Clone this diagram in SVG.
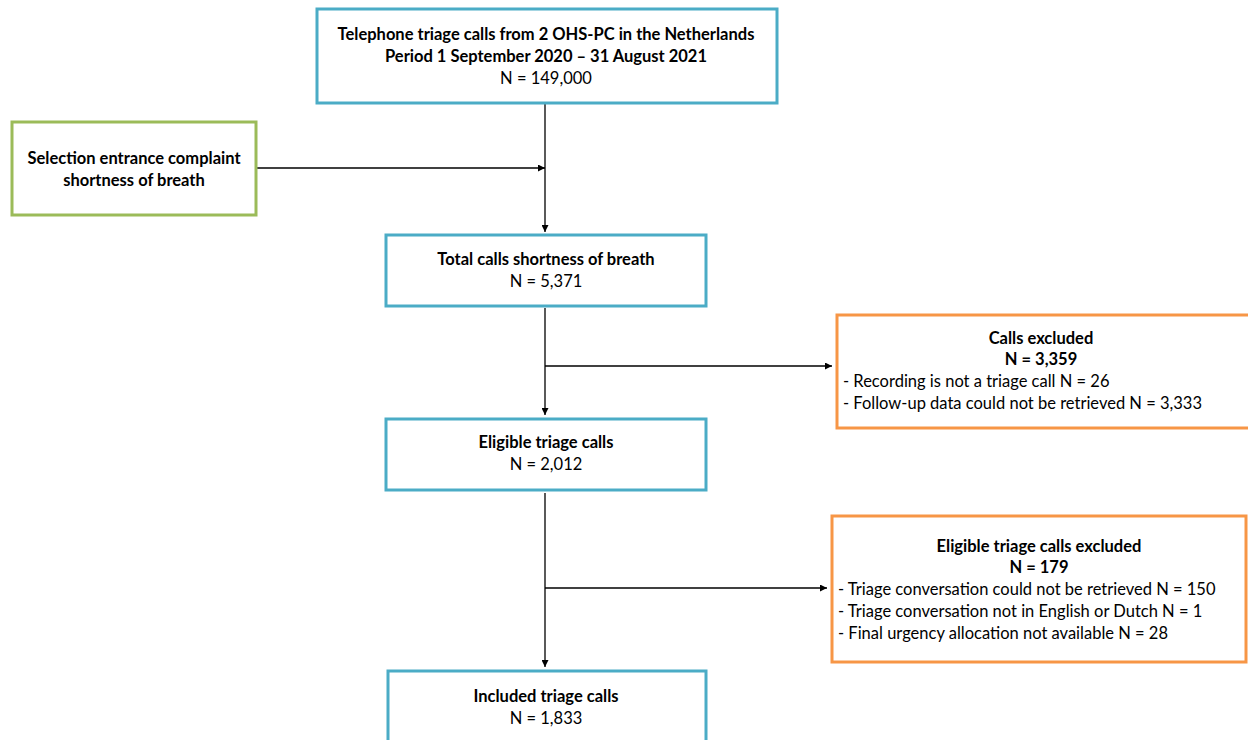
<svg xmlns="http://www.w3.org/2000/svg" width="1248" height="740" viewBox="0 0 1248 740">
<defs>
<marker id="ah" viewBox="0 0 10 10" refX="10" refY="5" markerWidth="7" markerHeight="7" markerUnits="userSpaceOnUse" orient="auto"><path d="M0,0 L10,5 L0,10 z" fill="#000"/></marker>
<style>
text{font-family:Lato,"Open Sans","Liberation Sans",sans-serif;font-size:16.5px;fill:#000}
.b{font-weight:bold}
.c{text-anchor:middle}
.blue{fill:#fff;stroke:#4BACC6;stroke-width:3}
.green{fill:#fff;stroke:#9BBB59;stroke-width:3}
.orange{fill:#fff;stroke:#F79646;stroke-width:3}
.ln{stroke:#000;stroke-width:1.3;fill:none}
</style>
</defs>
<rect width="1248" height="740" fill="#fff"/>
<g id="connectors">
<line class="ln" x1="545" y1="104" x2="545" y2="232" marker-end="url(#ah)"/>
<line class="ln" x1="257" y1="168" x2="545" y2="168" marker-end="url(#ah)"/>
<line class="ln" x1="545" y1="308" x2="545" y2="415" marker-end="url(#ah)"/>
<line class="ln" x1="545" y1="366" x2="832" y2="366" marker-end="url(#ah)"/>
<line class="ln" x1="545" y1="493" x2="545" y2="667" marker-end="url(#ah)"/>
<line class="ln" x1="545" y1="588" x2="827" y2="588" marker-end="url(#ah)"/>
</g>
<g id="n-total">
<rect class="blue" x="317" y="9" width="460" height="94"/>
<text class="b c" x="546" y="40">Telephone triage calls from 2 OHS-PC in the Netherlands</text>
<text class="b c" x="546" y="62">Period 1 September 2020 – 31 August 2021</text>
<text class="c" x="546" y="84">N = 149,000</text>
</g>
<g id="n-selection">
<rect class="green" x="12" y="122" width="244" height="93"/>
<text class="b c" x="134" y="164">Selection entrance complaint</text>
<text class="b c" x="134" y="186">shortness of breath</text>
</g>
<g id="n-sob">
<rect class="blue" x="386" y="235" width="320" height="71"/>
<text class="b c" x="546" y="265">Total calls shortness of breath</text>
<text class="c" x="546" y="287">N = 5,371</text>
</g>
<g id="n-excl1">
<rect class="orange" x="837" y="315" width="420" height="113"/>
<text class="b c" x="1041" y="344">Calls excluded</text>
<text class="b c" x="1041" y="365">N = 3,359</text>
<text x="843" y="387">- Recording is not a triage call N = 26</text>
<text x="843" y="409">- Follow-up data could not be retrieved N = 3,333</text>
</g>
<g id="n-eligible">
<rect class="blue" x="386" y="419" width="320" height="71"/>
<text class="b c" x="546" y="448">Eligible triage calls</text>
<text class="c" x="546" y="470">N = 2,012</text>
</g>
<g id="n-excl2">
<rect class="orange" x="832" y="516" width="414" height="146"/>
<text class="b c" x="1039" y="552">Eligible triage calls excluded</text>
<text class="b c" x="1039" y="573">N = 179</text>
<text x="838" y="595">- Triage conversation could not be retrieved N = 150</text>
<text x="838" y="617">- Triage conversation not in English or Dutch N = 1</text>
<text x="838" y="639">- Final urgency allocation not available N = 28</text>
</g>
<g id="n-included">
<rect class="blue" x="388" y="671" width="318" height="80"/>
<text class="b c" x="546" y="702">Included triage calls</text>
<text class="c" x="546" y="724">N = 1,833</text>
</g>
</svg>
